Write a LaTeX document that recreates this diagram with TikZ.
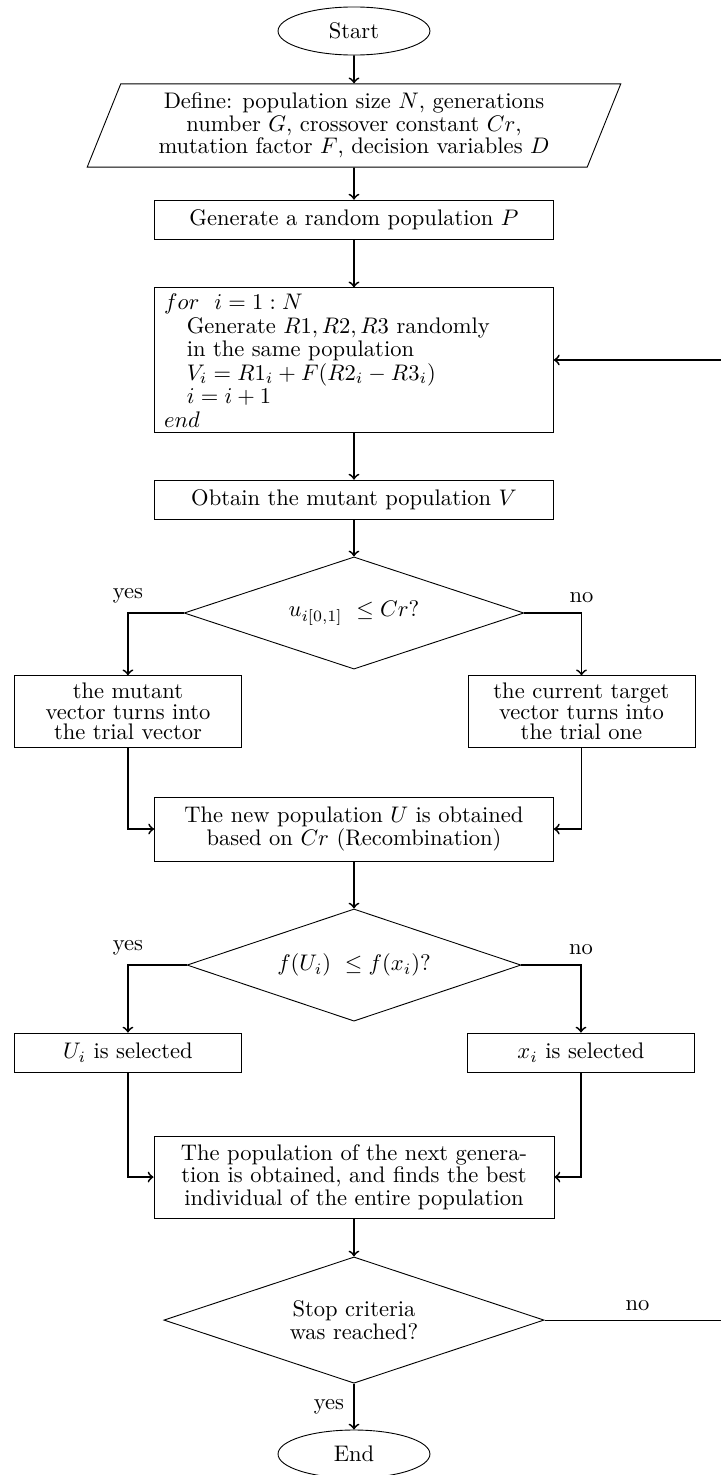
\documentclass[tikz,border=0pt]{standalone}
\usetikzlibrary{shapes.geometric}

\tikzstyle{startstop} = [ellipse, minimum width=2.37cm, minimum height=0.75cm, draw=black]
\tikzstyle{io} = [trapezium, trapezium left angle=70, trapezium right angle=110, trapezium stretches=true, minimum width=8.35cm, minimum height=1.3cm, text centered, draw=black, align=center]
\tikzstyle{process} = [rectangle, minimum width=6.22cm, minimum height=0.62cm, text centered, draw=black, align=center]
\tikzstyle{branch} = [rectangle, minimum width=3.54cm, minimum height=0.61cm, text centered, draw=black, align=center]
\tikzstyle{decision} = [diamond, aspect=3, inner sep=0pt, text centered, draw=black, align=center]
\tikzstyle{arrow} = [thick,->]
\tikzstyle{answer} = [inner sep=4pt]

\begin{document}
\begin{tikzpicture}[node distance=2cm, font=\fontsize{10}{10}\selectfont]

\useasboundingbox (-5.522,0.4836) rectangle (5.725,-22.526);
\clip (-5.522,0.4836) rectangle (5.725,-22.526);

\node (start) [startstop] {Start};

\node (define) [io, below of = start, node distance=1.474cm] {Define: population size $N$, generations\\ number $G$, crossover constant $Cr$,\\ mutation factor $F$, decision variables $D$};

\node (generate) [process, below of = define, node distance=1.474cm] {Generate a random population $P$};

\node (loop) [process, below of = generate, node distance=2.184cm, minimum height=2.25cm] {};
\node (looptext) [anchor=north west, align=left, inner sep=0pt, font=\fontsize{10}{10.4}\selectfont] at ([xshift=0.15cm, yshift=-0.1cm]loop.north west) {$for\ \ i=1:N$\\ \hspace*{1em}Generate $R1, R2, R3$ randomly\\ \hspace*{1em}in the same population\\ \hspace*{1em}$V_i = R1_i + F(R2_i - R3_i)$\\ \hspace*{1em}$i = i+1$\\ $end$};

\node (mutant) [process, below of = loop, node distance=2.184cm] {Obtain the mutant population $V$};

\node (cross) [decision, below of = mutant, node distance=1.763cm, minimum width=5.30cm, minimum height=1.75cm] {$u_{i[0,1]}\ \leq Cr$?};

\node (mutvec) [branch, below of = cross, node distance=1.537cm, xshift=-3.526cm, minimum width=3.53cm, minimum height=1.08cm, font=\fontsize{10}{9}\selectfont] {the mutant\\ vector turns into\\ the trial vector};

\node (tarvec) [branch, below of = cross, node distance=1.537cm, xshift=3.549cm, minimum height=1.11cm, font=\fontsize{10}{9}\selectfont] {the current target\\ vector turns into\\ the trial one};

\node (recomb) [process, below of = cross, node distance=3.37cm, minimum height=1.0cm] {The new population $U$ is obtained\\ based on $Cr$ (Recombination)};

\node (select) [decision, below of = recomb, node distance=2.122cm, minimum width=5.21cm, minimum height=1.75cm] {$f(U_i)\ \leq f(x_i)$?};

\node (trial) [branch, below of = select, node distance=1.365cm, xshift=-3.526cm] {$U_i$ is selected};

\node (target) [branch, below of = select, node distance=1.365cm, xshift=3.541cm] {$x_i$ is selected};

\node (nextgen) [process, below of = select, node distance=3.307cm, minimum width=6.24cm, minimum height=1.28cm, text width=5.62cm, align=center] {The population of the next generation is obtained, and finds the best individual of the entire population};

\node (stop) [decision, below of = nextgen, node distance=2.231cm, minimum width=5.93cm, minimum height=1.97cm] {Stop criteria\\ was reached?};

\node (end) [startstop, below of = stop, node distance=2.09cm] {End};

\draw[arrow] (start) -- (define);
\draw[arrow] (define) -- (generate);
\draw[arrow] (generate) -- (loop);
\draw[arrow] (loop) -- (mutant);
\draw[arrow] (mutant) -- (cross);
\draw[arrow] (cross.west) -| node[answer, above] {yes} (mutvec);
\draw[arrow] (cross.east) -| node[answer, above] {no} (tarvec);
\draw[arrow] (mutvec) |- (recomb);
\draw[arrow] (tarvec) |- (recomb);
\draw[arrow] (recomb) -- (select);
\draw[arrow] (select.west) -| node[answer, above] {yes} (trial);
\draw[arrow] (select.east) -| node[answer, above] {no} (target);
\draw[arrow] (trial) |- (nextgen);
\draw[arrow] (target) |- (nextgen);
\draw[arrow] (nextgen) -- (stop);
\draw[arrow] (stop) -- node[answer, left] {yes} (end);

\path (stop.east) ++(2.9,0) coordinate (noturn);
\draw (stop.east) -- node[answer, above] {no} (noturn) -- (noturn |- loop.east) coordinate (back);
\draw[arrow] (back) -- (loop.east);

\end{tikzpicture}
\end{document}
